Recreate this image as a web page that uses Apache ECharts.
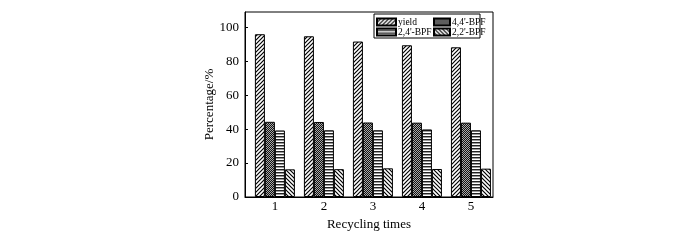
<!DOCTYPE html>
<html>
<head>
<meta charset="utf-8">
<script src="https://cdn.jsdelivr.net/npm/echarts@6/dist/echarts.min.js"></script>
<style>html,body{margin:0;padding:0;background:#fff;}#c{width:700px;height:240px;}</style>
</head>
<body>
<div id="c"></div>
<script>
var categories = [1, 2, 3, 4, 5];
var seriesNames = ['yield', "4,4'-BPF", "2,4'-BPF", "2,2'-BPF"];
var yieldVals = [95.9, 94.7, 91.6, 89.4, 88.2];
var bpf44Vals = [44.3, 44.2, 43.9, 43.8, 43.8];
var bpf24Vals = [39.2, 39.3, 39.3, 39.8, 39.3];
var bpf22Vals = [16.3, 16.4, 16.9, 16.5, 16.7];
var yTicks = [0, 20, 40, 60, 80, 100];

function makePattern(kind) {
  var c = document.createElement('canvas');
  var ctx = c.getContext('2d');
  if (kind === 'fwd' || kind === 'back') {
    c.width = 4; c.height = 4;
    ctx.fillStyle = '#fff'; ctx.fillRect(0, 0, 4, 4);
    ctx.strokeStyle = '#000'; ctx.lineWidth = 1.2;
    ctx.beginPath();
    if (kind === 'fwd') {
      ctx.moveTo(-1, 5); ctx.lineTo(5, -1);
      ctx.moveTo(-1, 1); ctx.lineTo(1, -1);
      ctx.moveTo(3, 5); ctx.lineTo(5, 3);
    } else {
      ctx.moveTo(-1, -1); ctx.lineTo(5, 5);
      ctx.moveTo(3, -1); ctx.lineTo(5, 1);
      ctx.moveTo(-1, 3); ctx.lineTo(1, 5);
    }
    ctx.stroke();
  } else if (kind === 'check') {
    c.width = 2; c.height = 2;
    ctx.fillStyle = '#111'; ctx.fillRect(0, 0, 2, 2);
    ctx.fillStyle = '#aaa'; ctx.fillRect(0, 0, 1, 1); ctx.fillRect(1, 1, 1, 1);
  } else if (kind === 'horiz') {
    c.width = 4; c.height = 3;
    ctx.fillStyle = '#fff'; ctx.fillRect(0, 0, 4, 3);
    ctx.fillStyle = '#222'; ctx.fillRect(0, 1, 4, 1);
    ctx.fillStyle = '#999'; ctx.fillRect(0, 2, 4, 1);
  }
  return { image: c, repeat: 'repeat' };
}

var patterns = [makePattern('fwd'), makePattern('check'), makePattern('horiz'), makePattern('back')];
var allVals = [yieldVals, bpf44Vals, bpf24Vals, bpf22Vals];

function pairs(vals) {
  return categories.map(function (c, i) { return [c, vals[i]]; });
}

var font = 'Liberation Serif';
var series = seriesNames.map(function (n, k) {
  return {
    name: n, type: 'bar', data: pairs(allVals[k]),
    barWidth: 10, barGap: '0%',
    itemStyle: { color: patterns[k], borderColor: '#000', borderWidth: 1 },
    emphasis: { disabled: true }, animation: false
  };
});

var legendText = { fontFamily: font, fontSize: 9.5, lineHeight: 9, color: '#000', padding: [0, 0, 0, -3] };
var chart = echarts.init(document.getElementById('c'), null, { renderer: 'canvas' });
chart.setOption({
  animation: false,
  grid: { left: 245, right: 207, top: 12, bottom: 43, show: true, borderColor: '#000', borderWidth: 1, backgroundColor: 'transparent' },
  legend: [
    { data: [seriesNames[0], seriesNames[2]], orient: 'vertical', left: 376, top: 17, itemWidth: 19, itemHeight: 7, itemGap: 0, padding: 0, icon: 'rect',
      textStyle: legendText, selectedMode: false },
    { data: [seriesNames[1], seriesNames[3]], orient: 'vertical', left: 433, top: 17, itemWidth: 16, itemHeight: 7, itemGap: 0, padding: 0, icon: 'rect',
      textStyle: legendText, selectedMode: false }
  ],
  graphic: [{ type: 'rect', shape: { x: 374, y: 14, width: 106, height: 24 }, style: { fill: 'none', stroke: '#000', lineWidth: 1 }, z: 100 }],
  xAxis: {
    type: 'value', min: 0.39, max: 5.45,
    name: 'Recycling times', nameLocation: 'middle', nameGap: 15,
    nameTextStyle: { fontFamily: font, fontSize: 13, color: '#000' },
    axisLine: { lineStyle: { color: '#000', width: 1 } },
    axisTick: { inside: true, length: 3, customValues: categories, lineStyle: { color: '#000' } },
    axisLabel: { customValues: categories, margin: 3, fontFamily: font, fontSize: 13, color: '#000' },
    splitLine: { show: false }
  },
  yAxis: {
    type: 'value', min: 0, max: 109,
    name: 'Percentage/%', nameLocation: 'middle', nameGap: 27,
    nameTextStyle: { fontFamily: font, fontSize: 13, color: '#000' },
    axisLine: { show: true, lineStyle: { color: '#000', width: 1 } },
    axisTick: { show: true, inside: true, length: 3, customValues: yTicks, lineStyle: { color: '#000' } },
    axisLabel: { customValues: yTicks, margin: 6, fontFamily: font, fontSize: 13, color: '#000' },
    splitLine: { show: false }
  },
  series: series
});
</script>
</body>
</html>
